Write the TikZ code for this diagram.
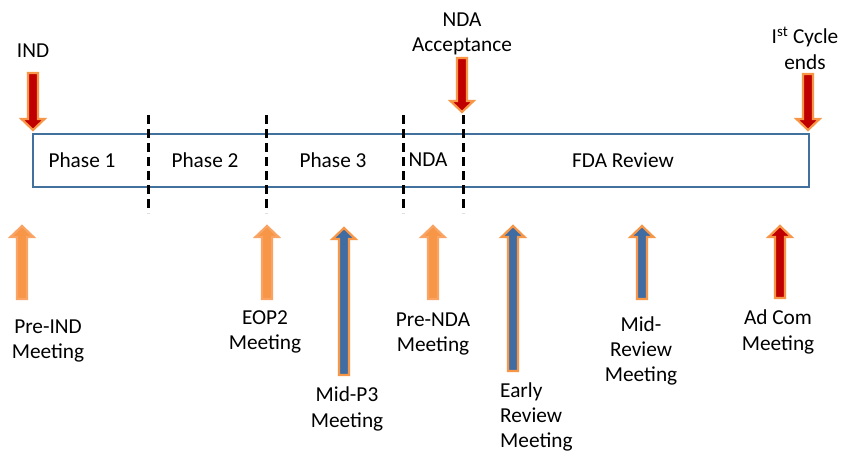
\documentclass[tikz,border=0pt]{standalone}
\usepackage{fontspec}
\setmainfont{Carlito}
\definecolor{oran}{HTML}{F79646}
\definecolor{oranlt}{HTML}{F9A465}
\definecolor{dred}{HTML}{C00000}
\definecolor{dblue}{HTML}{3F6CA3}
\definecolor{boxblue}{HTML}{41719C}
\tikzset{
  lbl/.style={inner sep=0pt, align=center, font=\fontsize{21.3}{25.3}\selectfont},
  divider/.style={black, line width=3pt, dash pattern=on 9pt off 5pt},
  tlbox/.style={draw=boxblue, line width=1.8pt},
}
% arrow: #1 x, #2 tip y, #3 tail y, #4 fill, #5 outline, #6 direction (+1 down, -1 up)
\newcommand\blockarrow[6]{%
  \draw[fill=#4, draw=#5, line width=2.2pt, line join=miter]
    (#1-5,#3) -- (#1-5,#2-#6*11) -- (#1-11.5,#2-#6*11) -- (#1,#2)
    -- (#1+11.5,#2-#6*11) -- (#1+5,#2-#6*11) -- (#1+5,#3) -- cycle;}
\begin{document}
\begin{tikzpicture}[x=1pt,y=-1pt]
\useasboundingbox (0,0) rectangle (845,451);
% timeline box
\node[tlbox, minimum width=776pt, minimum height=53pt, inner sep=0pt, anchor=north west] (tl) at (32,133) {};
% dividers
\foreach \xx/\nm in {148/d1,266/d2,403/d3,463/d4}{
  \coordinate (\nm t) at (\xx,115);
  \coordinate (\nm b) at (\xx,213);
  \draw[divider] (\nm t) -- (\nm b);
}
% phase labels
\node[lbl] (p1) at (82,160) {Phase 1};
\node[lbl] (p2) at (205,160) {Phase 2};
\node[lbl] (p3) at (333,160) {Phase 3};
\node[lbl] (pn) at (428,160) {NDA};
\node[lbl] (pf) at (623,160) {FDA Review};
% down arrows
\blockarrow{33}{130}{73}{dred}{oran}{1}
\blockarrow{462}{112}{58}{dred}{oran}{1}
\blockarrow{808}{130}{74}{dred}{oran}{1}
% up arrows
\blockarrow{22}{226}{299}{oran}{oranlt}{-1}
\blockarrow{267}{226}{299}{oran}{oranlt}{-1}
\blockarrow{344}{228}{375}{dblue}{oran}{-1}
\blockarrow{433}{226}{299}{oran}{oranlt}{-1}
\blockarrow{513}{226}{371}{dblue}{oran}{-1}
\blockarrow{642}{226}{299}{dblue}{oran}{-1}
\blockarrow{780}{226}{298}{dred}{oran}{-1}
% top labels
\node[lbl] (ind) at (33,51) {IND};
\node[lbl] (nda) at (462,34) {NDA\\Acceptance};
\node[lbl] (cyc) at (805,48) {I\textsuperscript{st} Cycle\\ends};
% bottom labels
\node[lbl] (preind) at (48,341) {Pre-IND\\Meeting};
\node[lbl] (eop2) at (265,332) {EOP2\\Meeting};
\node[lbl] (midp3) at (347,409) {Mid-P3\\Meeting};
\node[lbl] (prenda) at (433,334) {Pre-NDA\\Meeting};
\node[lbl, align=left, anchor=west] (early) at (500,417) {Early\\Review\\Meeting};
\node[lbl] (midrev) at (641,351) {Mid-\\Review\\Meeting};
\node[lbl] (adcom) at (778,332) {Ad Com\\Meeting};
\end{tikzpicture}
\end{document}
